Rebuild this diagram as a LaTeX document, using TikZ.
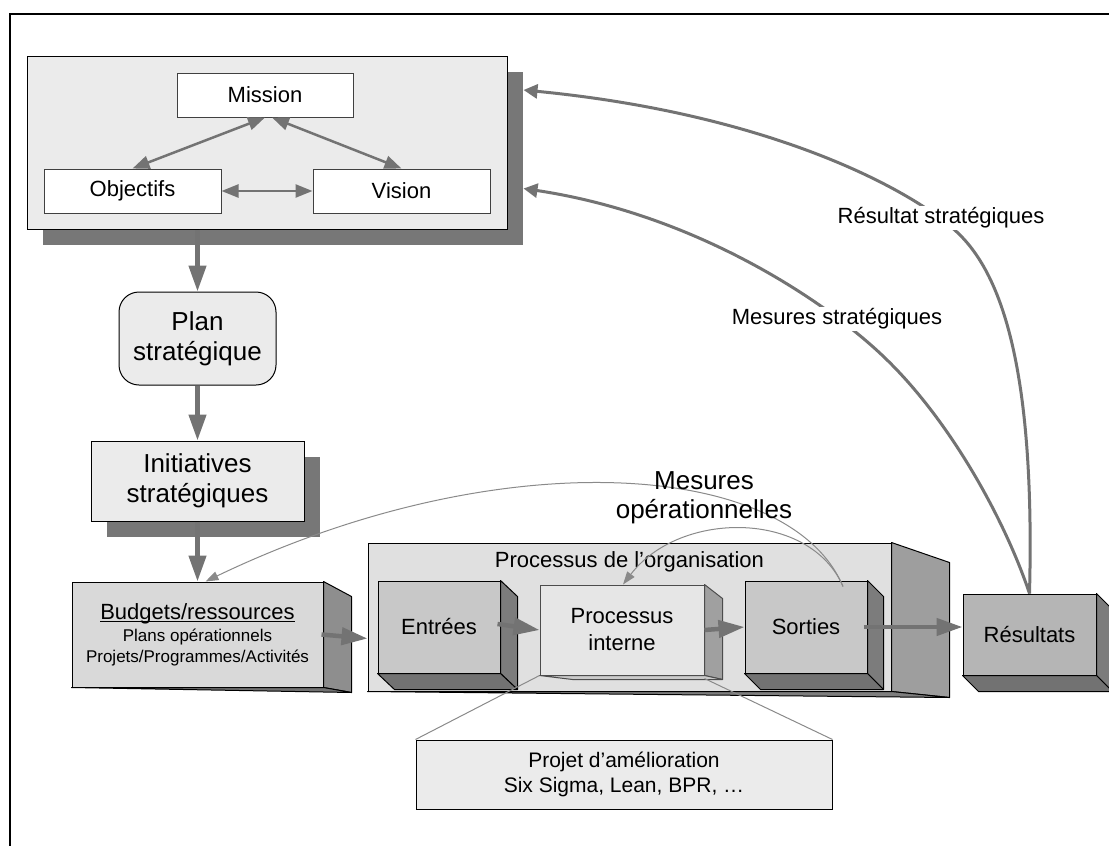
\documentclass[tikz,border=0pt]{standalone}
\usepackage{fontspec}
\setmainfont{Liberation Sans}
\usetikzlibrary{arrows.meta,shadows}
\definecolor{boxgray}{HTML}{EBEBEB}
\definecolor{shadowgray}{HTML}{777777}
\definecolor{arrgray}{HTML}{737373}
\definecolor{thingray}{HTML}{8A8A8A}
\definecolor{cubefront}{HTML}{C8C8C8}
\definecolor{cubeside}{HTML}{7C7C7C}
\definecolor{cubebottom}{HTML}{727272}
\definecolor{resfront}{HTML}{B5B5B5}
\definecolor{budfront}{HTML}{D9D9D9}
\definecolor{budside}{HTML}{8E8E8E}
\definecolor{orgfront}{HTML}{E0E0E0}
\definecolor{orgside}{HTML}{9E9E9E}
\definecolor{pifront}{HTML}{E6E6E6}
\definecolor{piside}{HTML}{A0A0A0}
\newcommand{\myunderline}[1]{\sbox0{#1}\rlap{\raisebox{-2.5pt}{\rule{\wd0}{1.2pt}}}\usebox0}
\begin{document}
\begin{tikzpicture}[x=1pt,y=-1pt,
  txt/.style={font=\fontsize{22}{27}\selectfont, align=center},
  bigtxt/.style={font=\fontsize{26}{30}\selectfont, align=center},
  flatbox/.style={draw=black, line width=1pt, fill=boxgray, inner sep=0pt},
  whitebox/.style={draw=black!75, line width=1pt, fill=white, inner sep=0pt, txt},
  shadowed/.style={drop shadow={shadow xshift=16pt, shadow yshift=-16pt, fill=shadowgray, opacity=1}},
  cube/.style={draw=black, line width=1pt, inner sep=0pt, txt},
  face/.style={draw=black, line width=1pt, line join=round},
  bigarr/.style={draw=arrgray, line width=4.5pt, -{Triangle[length=26pt,width=17pt]}},
  dblarr/.style={draw=arrgray, line width=2.5pt, {Triangle[length=17pt,width=13pt]}-{Triangle[length=17pt,width=13pt]}},
  stratarr/.style={draw=arrgray, line width=3pt, -{Triangle[length=14pt,width=14pt]}},
  thinarr/.style={draw=thingray, line width=1pt, -{Triangle[length=13pt,width=9pt]}},
  thinline/.style={draw=thingray, line width=1pt},
  curvelbl/.style={txt, fill=white, inner sep=2pt},
]
\useasboundingbox (0,0) rectangle (1109,846);
\draw[line width=2.2pt] (10,846) -- (10,14) -- (1109,14);

% top box
\node[flatbox, shadowed, minimum width=480pt, minimum height=173pt] (top) at (267,142.5) {};
\node[whitebox, minimum width=176pt, minimum height=44pt] (mission) at (265,95) {Mission};
\node[whitebox, minimum width=177pt, minimum height=44pt] (objectifs) at (132.5,191) {Objectifs};
\node[whitebox, minimum width=177pt, minimum height=44pt] (vision) at (401.5,191) {Vision};
\draw[dblarr] (mission.south) -- (objectifs.north);
\draw[dblarr] ([xshift=7pt]mission.south) -- (vision.north);
\draw[dblarr] (objectifs.east) -- (vision.west);

% plan
\node[flatbox, rounded corners=20pt, minimum width=157pt, minimum height=93pt, bigtxt] (plan) at (197.5,338.5) {Plan\\stratégique};
\node[flatbox, shadowed, minimum width=213pt, minimum height=80pt, bigtxt] (init) at (197.5,481) {Initiatives\\stratégiques};

% budgets
\node[cube, fill=budfront, minimum width=251pt, minimum height=105pt, font=\fontsize{17}{21}\selectfont] (budget) at (197.5,634.5) {{\fontsize{22}{26}\selectfont\myunderline{Budgets/ressources}}\\[1pt]Plans opérationnels\\Projets/Programmes/Activités};
\draw[face, fill=budside] (budget.north east) -- ++(28,15) -- ([shift={(28,5)}]budget.south east) -- (budget.south east) -- cycle;
\draw[face, fill=budside!80!black] (budget.south west) -- ([shift={(28,5)}]budget.south east) -- (budget.south east) -- cycle;

% processus de l'organisation
\node[cube, fill=orgfront, minimum width=523pt, minimum height=148pt] (org) at (629.5,617) {};
\draw[face, fill=orgside] (org.north east) -- ++(58,20) -- ([shift={(58,6)}]org.south east) -- (org.south east) -- cycle;
\draw[face, fill=orgside!80!black] (org.south west) -- ([shift={(58,6)}]org.south east) -- (org.south east) -- cycle;
\node[txt] (orgtitle) at ([shift={(0,19)}]org.north) {Processus de l’organisation};

% entrees
\node[cube, fill=cubefront, minimum width=122pt, minimum height=92pt] (entrees) at (439,627) {Entrées};
\draw[face, fill=cubeside] (entrees.north east) -- ++(17,16) -- ([shift={(17,16)}]entrees.south east) -- (entrees.south east) -- cycle;
\draw[face, fill=cubebottom] (entrees.south west) -- ++(17,16) -- ([shift={(17,16)}]entrees.south east) -- (entrees.south east) -- cycle;

% processus interne
\node[cube, fill=pifront, draw=black!70, minimum width=164pt, minimum height=90pt] (pint) at (622,630) {Processus\\interne};
\draw[face, draw=black!70, fill=piside] (pint.north east) -- ++(18,14) -- ([shift={(18,4)}]pint.south east) -- (pint.south east) -- cycle;
\draw[face, draw=black!70, fill=orgfront!90!black] (pint.south west) -- ([shift={(33,4)}]pint.south west) -- ([shift={(18,4)}]pint.south east) -- (pint.south east) -- cycle;

% sorties
\node[cube, fill=cubefront, minimum width=122pt, minimum height=92pt] (sorties) at (806,627) {Sorties};
\draw[face, fill=cubeside] (sorties.north east) -- ++(16,16) -- ([shift={(16,16)}]sorties.south east) -- (sorties.south east) -- cycle;
\draw[face, fill=cubebottom] (sorties.south west) -- ++(16,16) -- ([shift={(16,16)}]sorties.south east) -- (sorties.south east) -- cycle;

% resultats
\node[cube, fill=resfront, minimum width=133pt, minimum height=81pt] (resultats) at (1029.5,634.5) {Résultats};
\draw[face, fill=cubeside] (resultats.north east) -- ++(16,16) -- ([shift={(16,16)}]resultats.south east) -- (resultats.south east) -- cycle;
\draw[face, fill=cubebottom] (resultats.south west) -- ++(16,16) -- ([shift={(16,16)}]resultats.south east) -- (resultats.south east) -- cycle;

% projet
\node[flatbox, align=center, minimum width=416pt, minimum height=69pt, font=\fontsize{21}{25}\selectfont] (projet) at (624,774.5) {Projet d’amélioration\\Six Sigma, Lean, BPR, …};
\draw[thinline] (pint.south west) -- (projet.north west);
\draw[thinline] ([shift={(0,3)}]pint.south east) -- (projet.north east);

% thick arrows
\draw[bigarr] (top.south -| plan.north) -- (plan.north);
\draw[bigarr] (plan.south) -- (init.north);
\draw[bigarr] (init.south) -- (budget.north);
\draw[bigarr] ([shift={(-2,0)}]budget.east) -- ([shift={(0,4)}]budget.east -| org.west);
\draw[bigarr] ([shift={(-3,-3)}]entrees.east) -- (pint.west);
\draw[bigarr] (pint.east) -- (sorties.west);
\draw[bigarr] ([shift={(-4,0)}]sorties.east) -- (sorties.east -| resultats.west);

% strategic curves
\draw[stratarr] (resultats.north) .. controls (1035,380) and (1005,280) .. (960,235) .. controls (920,195) and (780,115) .. ([shift={(16,-52.5)}]top.east);
\node[curvelbl] (rstrat) at (941,218) {Résultat stratégiques};
\draw[stratarr] (resultats.north) .. controls (1005,520) and (950,420) .. (884,357) .. controls (830,305) and (700,215) .. ([shift={(16,46)}]top.east);
\node[curvelbl] (mstrat) at (837,319) {Mesures stratégiques};

% operational measures
\coordinate (sortpt) at ([shift={(37,6)}]sorties.north);
\draw[thinarr] (sortpt) .. controls (790,460) and (500,440) .. ([shift={(8,0)}]budget.north);
\draw[thinarr] (sortpt) .. controls (810,510) and (680,510) .. ([shift={(1,0)}]pint.north);
\node[font=\fontsize{26}{29}\selectfont, align=center] (mop) at (704,498) {Mesures\\opérationnelles};
\end{tikzpicture}
\end{document}
